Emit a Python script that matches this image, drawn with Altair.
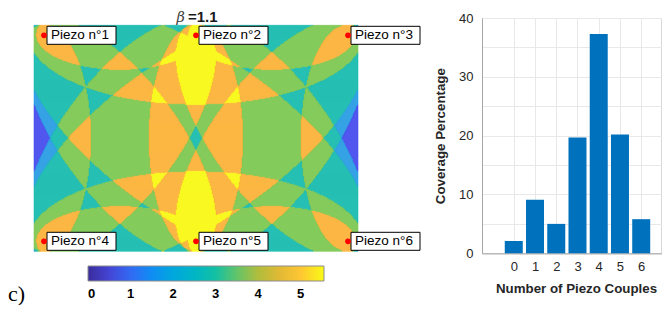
import numpy as np
import pandas as pd
import altair as alt
from itertools import combinations

# ---------------- data ----------------
beta = 1.1
plate_width = 324
plate_height = 226
piezo_ids = [1, 2, 3, 4, 5, 6]
piezo_x = [10, 162, 314, 10, 162, 314]
piezo_y = [10, 10, 10, 216, 216, 216]
piezo_labels = ["Piezo n°1", "Piezo n°2", "Piezo n°3", "Piezo n°4", "Piezo n°5", "Piezo n°6"]

couple_counts = [0, 1, 2, 3, 4, 5, 6]
coverage_pct = [2.1, 9.1, 5.0, 19.7, 37.3, 20.2, 5.8]

count_levels = [0, 1, 2, 3, 4, 5, 6]
count_colors = ["#3e26a8", "#4a50ee", "#2e9ee6", "#1fbdb0", "#80c855", "#fbb43c", "#f8f81a"]
colorbar_ticks = [0, 1, 2, 3, 4, 5]
colorbar_max = 5.55
parula_stops = ["#3a2c9c", "#4550ec", "#2f86f5", "#17aad9", "#14bbb6", "#5cc46c", "#c8b836", "#fcb93a", "#f8fa16"]

title_parts = ["β", "=1.1"]
title_x = [151, 154]
title_y = [-3, -3]

# ---------------- coverage field (ellipse of each piezo couple) ----------------
px = np.array(piezo_x, float)
py = np.array(piezo_y, float)
gx, gy = np.meshgrid(np.arange(plate_width) + 0.5, np.arange(plate_height) + 0.5)
cnt = np.zeros(gx.shape, dtype=int)
for i, j in combinations(range(len(piezo_ids)), 2):
    dij = np.hypot(px[i] - px[j], py[i] - py[j])
    di = np.hypot(gx - px[i], gy - py[i])
    dj = np.hypot(gx - px[j], gy - py[j])
    cnt += (di + dj <= beta * dij).astype(int)
cnt = np.minimum(cnt, max(count_levels))

runs = []
for r in range(plate_height):
    line = cnt[r]
    s = 0
    for c in range(1, plate_width + 1):
        if c == plate_width or line[c] != line[s]:
            runs.append({"x0": s, "x1": c, "y0": r, "y1": r + 1, "n": int(line[s])})
            s = c
field_df = pd.DataFrame(runs)

piezo_df = pd.DataFrame({"id": piezo_ids, "px": piezo_x, "py": piezo_y, "label": piezo_labels})
legend_df = pd.DataFrame({"v": [0.0, colorbar_max], "px": [piezo_x[1]] * 2, "py": [piezo_y[4]] * 2})
hist_df = pd.DataFrame({"k": couple_counts, "pct": coverage_pct})
title_df = pd.DataFrame({"t": title_parts, "tx": title_x, "ty": title_y})

# ---------------- heatmap panel ----------------
xsc = alt.Scale(domain=[0, plate_width], nice=False, zero=False)
ysc = alt.Scale(domain=[-7.3, plate_height], nice=False, zero=False, reverse=True)
count_scale = alt.Scale(domain=count_levels, range=count_colors)

field = alt.Chart(field_df).mark_rect(strokeWidth=0.6).encode(
    x=alt.X("x0:Q", scale=xsc, axis=None),
    x2="x1:Q",
    y=alt.Y("y0:Q", scale=ysc, axis=None),
    y2="y1:Q",
    color=alt.Color("n:O", scale=count_scale, legend=None),
    stroke=alt.Stroke("n:O", scale=count_scale, legend=None),
)

dots = alt.Chart(piezo_df).mark_circle(color="#ff0000", size=32, opacity=1).encode(
    x=alt.X("px:Q", scale=xsc, axis=None),
    y=alt.Y("py:Q", scale=ysc, axis=None),
)

boxes = alt.Chart(piezo_df).transform_calculate(
    bx0="datum.px + 3", bx1="datum.px + 72", by0="datum.py - 9", by1="datum.py + 9"
).mark_rect(fill="white", stroke="black", strokeWidth=1).encode(
    x=alt.X("bx0:Q", scale=xsc, axis=None),
    x2="bx1:Q",
    y=alt.Y("by0:Q", scale=ysc, axis=None),
    y2="by1:Q",
)

labels = alt.Chart(piezo_df).mark_text(
    align="left", baseline="middle", font="Liberation Sans", fontSize=13.5, color="black", dx=7
).encode(
    x=alt.X("px:Q", scale=xsc, axis=None),
    y=alt.Y("py:Q", scale=ysc, axis=None),
    text="label:N",
)

title_beta = alt.Chart(title_df.iloc[[0]]).mark_text(
    align="right", baseline="alphabetic", font="DejaVu Serif", fontStyle="italic",
    fontSize=14.5, color="#404040"
).encode(
    x=alt.X("tx:Q", scale=xsc, axis=None),
    y=alt.Y("ty:Q", scale=ysc, axis=None),
    text="t:N",
)

title_val = alt.Chart(title_df.iloc[[1]]).mark_text(
    align="left", baseline="alphabetic", font="Liberation Sans", fontWeight="bold",
    fontSize=15, color="#1a1a1a"
).encode(
    x=alt.X("tx:Q", scale=xsc, axis=None),
    y=alt.Y("ty:Q", scale=ysc, axis=None),
    text="t:N",
)

cbar = alt.Chart(legend_df).mark_point(opacity=0).encode(
    x=alt.X("px:Q", scale=xsc, axis=None),
    y=alt.Y("py:Q", scale=ysc, axis=None),
    color=alt.Color(
        "v:Q",
        scale=alt.Scale(
            domain=[colorbar_max * k / (len(parula_stops) - 1) for k in range(len(parula_stops))],
            range=parula_stops,
        ),
        legend=alt.Legend(
            title=["", "c)"], titleOrient="left", titleFont="Liberation Serif", titleFontSize=22,
            titleFontWeight="normal", titleColor="black", titlePadding=62,
            titleBaseline="top", titleLineHeight=21,
            orient="none", legendX=-26, legendY=248, direction="horizontal",
            gradientLength=236, gradientThickness=15,
            gradientStrokeColor="#8c8c8c", gradientStrokeWidth=1,
            values=colorbar_ticks, labelFont="Liberation Sans", labelFontSize=13,
            labelFontWeight="bold", labelColor="black", labelOffset=7, padding=0,
        ),
    ),
)

heat = alt.layer(field, boxes, dots, labels, title_beta, title_val, cbar).resolve_scale(
    color="independent", stroke="independent"
).resolve_legend(color="independent").properties(
    width=plate_width,
    height=plate_height + 7.3,
    view=alt.ViewBackground(strokeWidth=0),
)

# ---------------- histogram panel ----------------
hist = alt.Chart(hist_df).mark_bar(size=18, color="#0072BD").encode(
    x=alt.X("k:Q", scale=alt.Scale(domain=[-1.26, 6.71], nice=False, zero=False),
            axis=alt.Axis(values=couple_counts, title="Number of Piezo Couples",
                          titleX=94, titleAlign="center", titlePadding=8,
                          labelFontSize=13, titleFontSize=13.3, titleFontWeight="bold",
                          tickSize=0, labelPadding=7)),
    y=alt.Y("pct:Q", scale=alt.Scale(domain=[0, 40], nice=False),
            axis=alt.Axis(values=[0, 5, 10, 15, 20, 25, 30, 35, 40],
                          labelExpr="datum.value % 10 == 0 ? datum.label : ''",
                          title="Coverage Percentage", titleFontSize=13.3, titleFontWeight="bold",
                          labelFontSize=13, tickSize=0, labelPadding=9, titlePadding=11)),
).properties(width=179.3, height=235.3, view=alt.ViewBackground(stroke="#c8c8c8"))

chart = alt.hconcat(heat, hist, spacing=12).properties(
    padding={"left": 0, "top": 2, "right": 0, "bottom": 0}
).configure_axis(
    labelFont="Liberation Sans", titleFont="Liberation Sans", labelColor="#262626",
    titleColor="#262626", domainColor="#a6a6a6", gridColor="#e8e8e8",
)

chart.save("out.html", embed_options={"renderer": "svg", "actions": False})
